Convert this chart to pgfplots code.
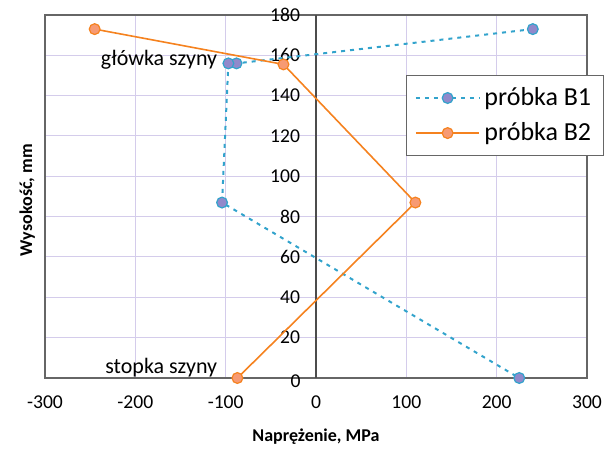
\documentclass[border=0pt]{standalone}
\usepackage{pgfplots}
\pgfplotsset{compat=1.18}
\usepackage{fontspec}
\setmainfont{Carlito}
\definecolor{B1line}{RGB}{50,163,204}
\definecolor{B1fill}{RGB}{145,137,203}
\definecolor{B2line}{RGB}{245,130,31}
\definecolor{B2fill}{RGB}{247,154,115}
\definecolor{gridc}{RGB}{212,204,235}
\begin{document}
\begin{tikzpicture}
\begin{axis}[name=ax, scale only axis, width=271pt, height=181.5pt, clip=false,
  xmin=-300, xmax=300, ymin=0, ymax=180,
  xtick={-300,-200,-100,100,200,300},
  extra x ticks={0},
  extra x tick style={grid=major, major grid style={draw=black!70, line width=0.7pt}},
  ytick={20,40,...,180},
  xmajorgrids, ymajorgrids,
  grid style={draw=gridc, line width=0.5pt},
  major tick length=0pt,
  axis line style={draw=black!60, line width=0.8pt},
  tick label style={font=\fontsize{9.8}{11}\selectfont},
  /pgf/number format/assume math mode=true,
  yticklabel style={xshift=131pt},
  xticklabel style={yshift=-5.5pt},
  xlabel={Naprężenie, MPa},
  ylabel={Wysokość, mm},
  every axis x label/.style={at={(axis description cs:0.5,0)}, anchor=center, yshift=-29.5pt, font=\fontsize{9}{11}\selectfont\bfseries},
  every axis y label/.style={at={([xshift=-1.5pt]axis description cs:0,0.49)}, rotate=90, anchor=south, font=\fontsize{9}{11}\selectfont\bfseries},
  legend image code/.code={\draw[mark repeat=2,mark phase=2] plot coordinates {(0cm,0cm) (0.56cm,0cm) (1.12cm,0cm)};},
  legend style={at={(axis description cs:1.031,0.835)}, anchor=north east, draw=black!60, line width=0.6pt, font=\fontsize{13}{15}\selectfont, inner xsep=4pt, inner ysep=4pt, row sep=3pt, cells={anchor=west}},
]
\addplot[color=B1line, dash pattern=on 2pt off 2.5pt, line width=1pt, mark=*, mark size=2.7pt,
  mark options={solid, fill=B1fill, draw=B1line, line width=0.6pt}]
  coordinates {(240,173) (-88,156) (-97,156) (-104,87) (225,0)};
\addplot[color=B2line, line width=0.8pt, mark=*, mark size=2.7pt,
  mark options={fill=B2fill, draw=B2line, line width=0.6pt}]
  coordinates {(-245,173) (-36,155.5) (110,87) (-87,0)};
\legend{próbka B1, próbka B2}
\node[anchor=east, font=\fontsize{11}{13}\selectfont, inner sep=0pt] at (axis cs:-109,158) {główka szyny};
\node[anchor=east, font=\fontsize{11}{13}\selectfont, inner sep=0pt] at (axis cs:-109,5) {stopka szyny};
\node[anchor=east, font=\fontsize{9.8}{11}\selectfont, inner sep=0pt] at ([xshift=-7.5pt,yshift=-1.5pt]axis cs:0,0) {0};
\end{axis}
\pgfresetboundingbox
\path ([xshift=-22.5pt,yshift=-35.5pt]ax.south west) rectangle ([xshift=14pt,yshift=7.5pt]ax.north east);
\end{tikzpicture}
\end{document}
